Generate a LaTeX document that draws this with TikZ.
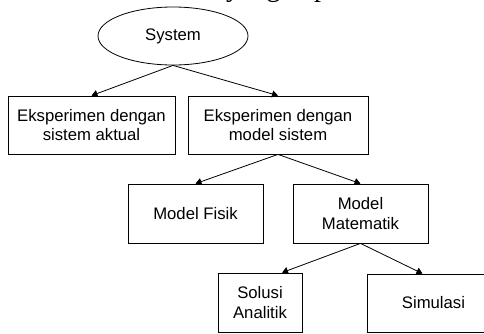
\documentclass[tikz,border=0pt]{standalone}
\usepackage{fontspec}
\setmainfont{Liberation Sans}
\newfontfamily\serifteks{Liberation Serif}
\usetikzlibrary{shapes.geometric,arrows.meta}

\tikzset{
  kotak/.style={draw, rectangle, align=center, inner sep=2pt, line width=0.8pt,
    font=\fontsize{16.7}{19.5}\selectfont},
  panah/.style={-{Triangle[length=6pt,width=7pt]}, line width=0.8pt}
}

\begin{document}
\begin{tikzpicture}[x=1pt, y=-1pt]

    % --- 0. 画布范围 ---
    \useasboundingbox (0,0) rectangle (484,333);

    % --- 1. 顶部被裁掉的一行文字 ---
    \begin{scope}
      \clip (0,0) rectangle (484,333);
      \node[anchor=base west, inner sep=0pt, font=\serifteks\fontsize{28}{30}\selectfont] (judul) at (226,-4) {yang dapat};
    \end{scope}

    % --- 2. 根节点 (椭圆) ---
    \node[draw, ellipse, line width=0.8pt, minimum width=150pt, minimum height=58pt,
      font=\fontsize{16.7}{19.5}\selectfont] (sistem) at (173,36) {System};

    % --- 3. 第二层 ---
    \node[kotak, minimum width=167pt, minimum height=58pt] (aktual) at (91.5,125) {Eksperimen dengan\\sistem aktual};
    \node[kotak, minimum width=180pt, minimum height=58pt] (model) at (278,125) {Eksperimen dengan\\model sistem};

    % --- 4. 第三层 ---
    \node[kotak, minimum width=135pt, minimum height=59pt] (fisik) at (195.5,213.5) {Model Fisik};
    \node[kotak, minimum width=135pt, minimum height=59pt] (matematik) at (360.5,213.5) {Model\\Matematik};

    % --- 5. 第四层 ---
    % Simulasi 的右边超出了画面
    \node[kotak, minimum width=84pt, minimum height=59pt] (analitik) at (260,302.5) {Solusi\\Analitik};
    \node[kotak, minimum width=133pt, minimum height=58pt] (simulasi) at (433.5,303) {Simulasi};

    % 箭头落点并不在框的正中
    \coordinate (analitikAtas) at ([xshift=22pt]analitik.north);
    \coordinate (simulasiAtas) at ([xshift=-11pt]simulasi.north);

    % --- 6. 箭头 ---
    \draw[panah] (sistem.south) -- (aktual.north);
    \draw[panah] (sistem.south) -- (model.north);
    \draw[panah] (model.south) -- (fisik.north);
    \draw[panah] (model.south) -- (matematik.north);
    \draw[panah] (matematik.south) -- (analitikAtas);
    \draw[panah] (matematik.south) -- (simulasiAtas);

\end{tikzpicture}
\end{document}
